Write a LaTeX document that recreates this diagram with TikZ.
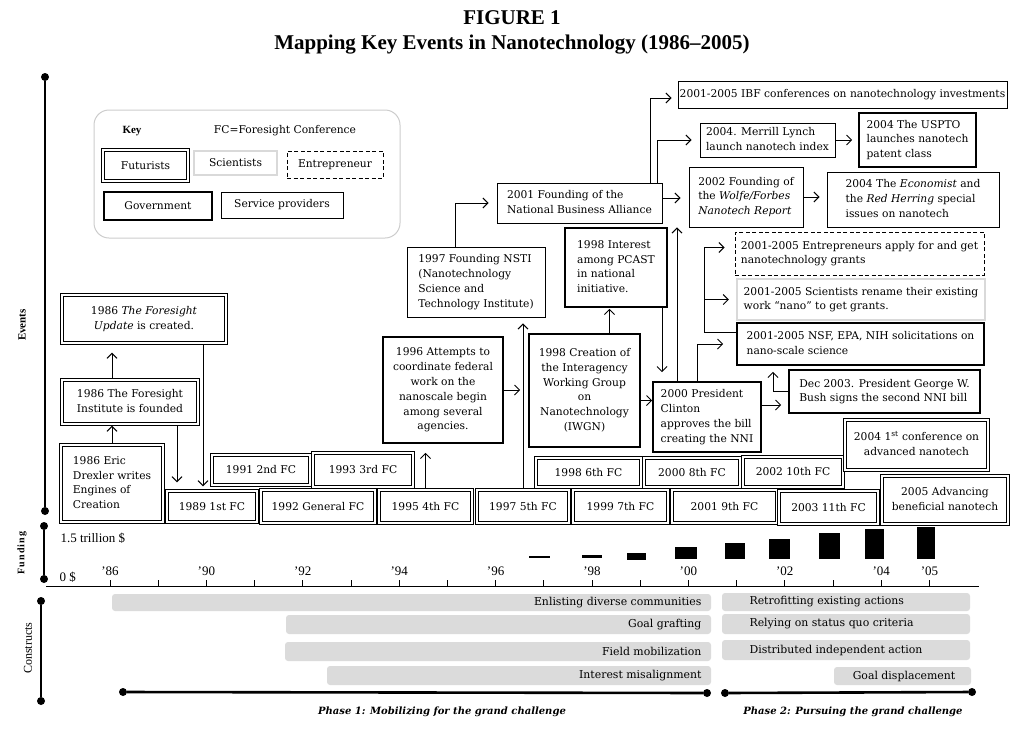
\documentclass[tikz,border=0pt]{standalone}
\usepackage{fontspec}
\setmainfont{DejaVu Serif}
\newfontfamily\titlefont{Liberation Serif}[Ligatures=TeX]
\usetikzlibrary{arrows.meta,calc}
\newcommand\mybox[7]{\node[#1, inner sep=0pt, minimum width={(#4-#2)*1pt}, minimum height={(#5-#3)*1pt}] (#6) at ({(#2+#4)/2},{(#3+#5)/2}) {#7};}
\newcommand\lt[1]{\begin{tabular}{@{}l@{}}#1\end{tabular}}
\newcommand\ct[1]{\begin{tabular}{@{}c@{}}#1\end{tabular}}
\tikzset{
  box/.style={font=\fontsize{10.7}{14.8}\selectfont},
  fut/.style={box, draw, line width=3.2pt, postaction={draw=white, line width=1.5pt}},
  gov/.style={box, draw, line width=1.6pt},
  svc/.style={box, draw, line width=0.8pt},
  sci/.style={box, draw=black!15, line width=2.2pt},
  ent/.style={box, draw, line width=0.8pt, dash pattern=on 4pt off 2.5pt},
  arr/.style={-{Straight Barb[length=5pt,width=10pt]}, line width=1pt},
  dot/.style={circle, fill, inner sep=0pt, minimum size=8pt},
  gbar/.style={fill=black!14, rounded corners=3pt},
  ctext/.style={font=\fontsize{10.9}{12}\selectfont},
  axlab/.style={font=\titlefont\bfseries\fontsize{11}{12}\selectfont, rotate=90},
  ylab/.style={font=\titlefont\fontsize{13}{14}\selectfont},
}
\begin{document}
\begin{tikzpicture}[x=1pt,y=-1pt]
\useasboundingbox (0,0) rectangle (1024,731);
% title
\node[font=\titlefont\bfseries\fontsize{21}{24}\selectfont] (t1) at (512,18) {FIGURE 1};
\node[font=\titlefont\bfseries\fontsize{21}{24}\selectfont] (t2) at (512,45) {Mapping Key Events in Nanotechnology (1986\textendash2005)};

% axes
\node[dot] (ev1) at (45,77) {};
\node[dot] (ev2) at (45,511) {};
\draw[line width=1.3pt] (ev1) -- (ev2);
\node[axlab] (evl) at (22,325) {Events};
\node[dot] (fu1) at (44,526) {};
\node[dot] (fu2) at (44,579) {};
\draw[line width=1.3pt] (fu1) -- (fu2);
\node[axlab, font=\titlefont\bfseries\fontsize{10}{12}\selectfont\addfontfeature{LetterSpace=12}] (ful) at (22,553) {Funding};
\node[dot] (co1) at (41,601) {};
\node[dot] (co2) at (41,701) {};
\draw[line width=1.3pt] (co1) -- (co2);
\node[axlab, font=\titlefont\fontsize{12}{12}\selectfont] (col) at (28,648) {Constructs};

% key
\draw[draw=black!20, line width=1pt, rounded corners=15pt] (94,110) rectangle (400,238);
\node[font=\titlefont\bfseries\fontsize{11}{12}\selectfont] (keyt) at (132,131) {Key};
\node[box] (fcdef) at (285,131) {FC=Foresight Conference};
\mybox{fut}{103}{150}{188}{181}{kfut}{Futurists}
\mybox{sci}{194}{151}{277}{175}{ksci}{Scientists}
\mybox{ent}{287}{151}{383}{178}{kent}{Entrepreneur}
\mybox{gov}{104}{192}{212}{220}{kgov}{Government}
\mybox{svc}{221}{192}{343}{218}{ksvc}{Service providers}

% events: futurists
\mybox{fut}{62}{295}{226}{343}{update}{\ct{1986 \textit{The Foresight}\\\textit{Update} is created.}}
\mybox{fut}{62}{380}{198}{424}{inst}{\ct{1986 The Foresight\\Institute is founded}}
\mybox{fut}{61}{445}{163}{522}{drex}{\lt{1986 Eric\\Drexler writes\\Engines of\\Creation}}
\mybox{fut}{167}{491}{257}{522}{fc89}{1989 1st FC}
\mybox{fut}{212}{455}{310}{485}{fc91}{1991 2nd FC}
\mybox{fut}{261}{490}{375}{523}{fc92}{1992 General FC}
\mybox{fut}{313}{453}{413}{487}{fc93}{1993 3rd FC}
\mybox{fut}{379}{490}{472}{523}{fc95}{1995 4th FC}
\mybox{fut}{477}{490}{569}{523}{fc97}{1997 5th FC}
\mybox{fut}{536}{458}{641}{487}{fc98}{1998 6th FC}
\mybox{fut}{573}{490}{668}{523}{fc99}{1999 7th FC}
\mybox{fut}{644}{458}{740}{487}{fc00}{2000 8th FC}
\mybox{fut}{672}{490}{777}{523}{fc01}{2001 9th FC}
\mybox{fut}{743}{457}{843}{487}{fc02}{2002 10th FC}
\mybox{fut}{779}{491}{878}{524}{fc03}{2003 11th FC}
\mybox{fut}{845}{420}{988}{470}{conf04}{\ct{2004 1\textsuperscript{st} conference on\\advanced nanotech}}
\mybox{fut}{882}{476}{1008}{524}{adv05}{\ct{2005 Advancing\\beneficial nanotech}}

% government
\mybox{gov}{383}{337}{503}{443}{att96}{\ct{1996 Attempts to\\coordinate federal\\work on the\\nanoscale begin\\among several\\agencies.}}
\mybox{gov}{565}{228}{667}{307}{pcast}{\lt{1998 Interest\\among PCAST\\in national\\initiative.}}
\mybox{gov}{529}{334}{640}{447}{iwgn}{\ct{1998 Creation of\\the Interagency\\Working Group\\on\\Nanotechnology\\(IWGN)}}
\mybox{gov}{653}{382}{761}{452}{clinton}{\lt{2000 President\\Clinton\\approves the bill\\creating the NNI}}
\mybox{gov}{737}{323}{984}{365}{nsf}{\lt{2001-2005 NSF, EPA, NIH solicitations on\\nano-scale science}}
\mybox{gov}{789}{370}{980}{413}{bush}{\lt{Dec 2003. President George W.\\Bush signs the second NNI bill}}
\mybox{gov}{859}{113}{976}{167}{uspto}{\lt{2004 The USPTO\\launches nanotech\\patent class}}

% service providers
\mybox{svc}{407}{247}{545}{317}{nsti}{\lt{1997 Founding NSTI\\(Nanotechnology\\Science and\\Technology Institute)}}
\mybox{svc}{497}{183}{662}{223}{nba}{\lt{2001 Founding of the\\National Business Alliance}}
\mybox{svc}{678}{81}{1007}{108}{ibf}{2001-2005 IBF conferences on nanotechnology investments}
\mybox{svc}{700}{123}{835}{157}{merrill}{\lt{2004. Merrill Lynch\\launch nanotech index}}
\mybox{svc}{689}{167}{803}{227}{wolfe}{\lt{2002 Founding of\\the \textit{Wolfe/Forbes}\\\textit{Nanotech Report}}}
\mybox{svc}{827}{172}{999}{227}{econ}{\lt{2004 The \textit{Economist} and\\the \textit{Red Herring} special\\issues on nanotech}}

% scientists / entrepreneurs
\mybox{sci}{737}{279}{985}{320}{sciren}{\lt{2001-2005 Scientists rename their existing\\work ``nano'' to get grants.}}
\mybox{ent}{735}{232}{984}{275}{entr}{\lt{2001-2005 Entrepreneurs apply for and get\\nanotechnology grants}}

% connectors
\draw[arr] (drex.north) -- (drex.north |- inst.south);
\draw[arr,shorten >=8pt] (drex.north |- inst.north) -- (drex.north |- update.south);
\coordinate (a1) at ([xshift=47pt]inst.south);
\draw[arr,shorten >=7pt] (a1) -- (a1 |- fc89.north);
\coordinate (a2) at ([xshift=59pt]update.south);
\draw[arr,shorten >=3pt] (a2) -- (a2 |- fc89.north);
\draw[arr,shorten >=9pt] (fc95.north) -- (fc95.north |- att96.south);
\draw[arr,shorten >=8pt] (att96.east) -- (att96.east -| iwgn.west);
\draw[arr,shorten >=6pt] (fc97.north) -- (fc97.north |- nsti.south);
\coordinate (a3) at ([xshift=-21pt]nsti.north);
\draw[arr,shorten >=8pt] (a3) |- (nba.west);
\coordinate (a4) at ([xshift=25pt]iwgn.north);
\draw[arr,shorten >=1pt] (a4) -- (a4 |- pcast.south);
\coordinate (a5) at ([xshift=46pt]pcast.south);
\draw[arr,shorten >=9pt] (a5) -- (a5 |- clinton.north);
\coordinate (a6) at ([yshift=-10pt]iwgn.east);
\draw[arr] (a6) -- (a6 -| clinton.west);
\coordinate (a7) at ([xshift=-30pt]clinton.north);
\draw[arr] (a7) -- (a7 |- wolfe.south);
\coordinate (a8) at ([xshift=-10pt]clinton.north);
\draw[arr,shorten >=13pt] (a8) |- (nsf.west);
\coordinate (a9) at ([yshift=12pt]nsf.west);
\coordinate (a10) at ([xshift=-32pt]a9);
\draw[arr,shorten >=10pt] (a9) -- (a10) |- ([yshift=6pt]entr.west);
\draw[arr,shorten >=7pt] (a10) |- (sciren.west);
\coordinate (a11) at ([yshift=12pt]clinton.east);
\draw[arr,shorten >=7pt] (a11) -- (a11 -| bush.west);
\coordinate (a12) at ([xshift=-87.5pt]nsf.south);
\draw[arr,shorten >=6pt] (bush.west) -| (a12);
\coordinate (a13) at ([xshift=70.5pt]nba.north);
\draw[arr,shorten >=6pt] (a13) |- ([yshift=-3.5pt]ibf.west);
\coordinate (a14) at ([xshift=77.5pt]nba.north);
\draw[arr,shorten >=8pt] (a14) |- (merrill.west);
\draw[arr,shorten >=6pt] (merrill.east) -- (merrill.east -| uspto.west);
\coordinate (a15) at ([yshift=5pt]nba.east);
\draw[arr,shorten >=8pt] (a15) -- (a15 -| wolfe.west);
\draw[arr,shorten >=7pt] (wolfe.east) -- (wolfe.east -| econ.west);

% funding
\node[ylab, anchor=west] (f15) at (57,538) {1.5 trillion \$};
\node[ylab, anchor=west] (f0) at (56,577) {0 \$};
\draw[line width=0.8pt] (46,586) -- (979,586);
\foreach \k in {0,...,17} {\draw[line width=0.7pt] ({110+48.2*\k},580) -- ({110+48.2*\k},586);}
\foreach \k/\l in {0/'86,2/'90,4/'92,6/'94,8/'96,10/'98,12/'00,14/'02,16/'04,17/'05}
  {\node[ylab] at ({110+48.2*\k},571) {\l};}
\fill (529,556) rectangle (550,558);
\fill (582,555) rectangle (602,558);
\fill (627,553) rectangle (646,560);
\fill (675,547) rectangle (697,559);
\fill (725,543) rectangle (745,559);
\fill (769,539) rectangle (790,559);
\fill (819,533) rectangle (840,559);
\fill (865,529) rectangle (884,559);
\fill (917,527) rectangle (935,559);

% constructs
\fill[gbar] (112,594) rectangle (711,611);
\fill[gbar] (286,615) rectangle (711,634);
\fill[gbar] (285,642) rectangle (711,661);
\fill[gbar] (327,666) rectangle (711,685);
\node[ctext, anchor=east] (c1) at (705,602.5) {Enlisting diverse communities};
\node[ctext, anchor=east] (c2) at (705,624.5) {Goal grafting};
\node[ctext, anchor=east] (c3) at (705,651.5) {Field mobilization};
\node[ctext, anchor=east] (c4) at (705,675.5) {Interest misalignment};
\fill[gbar] (722,593) rectangle (970,611);
\fill[gbar] (722,614) rectangle (970,634);
\fill[gbar] (722,640) rectangle (970,660);
\fill[gbar] (834,667) rectangle (971,685);
\node[ctext, anchor=west] (c5) at (746,602) {Retrofitting existing actions};
\node[ctext, anchor=west] (c6) at (746,624) {Relying on status quo criteria};
\node[ctext, anchor=west] (c7) at (746,650) {Distributed independent action};
\node[ctext, anchor=center] (c8) at (904,676) {Goal displacement};

% phases
\node[dot] (p1a) at (123,692) {};
\node[dot] (p1b) at (707,693) {};
\draw[line width=2.6pt] (p1a) -- (p1b);
\node[dot] (p2a) at (725,693) {};
\node[dot] (p2b) at (972,692) {};
\draw[line width=2.6pt] (p2a) -- (p2b);
\node[font=\bfseries\itshape\fontsize{10}{12}\selectfont] (ph1) at (442,712) {Phase 1: Mobilizing for the grand challenge};
\node[font=\bfseries\itshape\fontsize{10}{12}\selectfont] (ph2) at (853,712) {Phase 2: Pursuing the grand challenge};
\end{tikzpicture}
\end{document}
